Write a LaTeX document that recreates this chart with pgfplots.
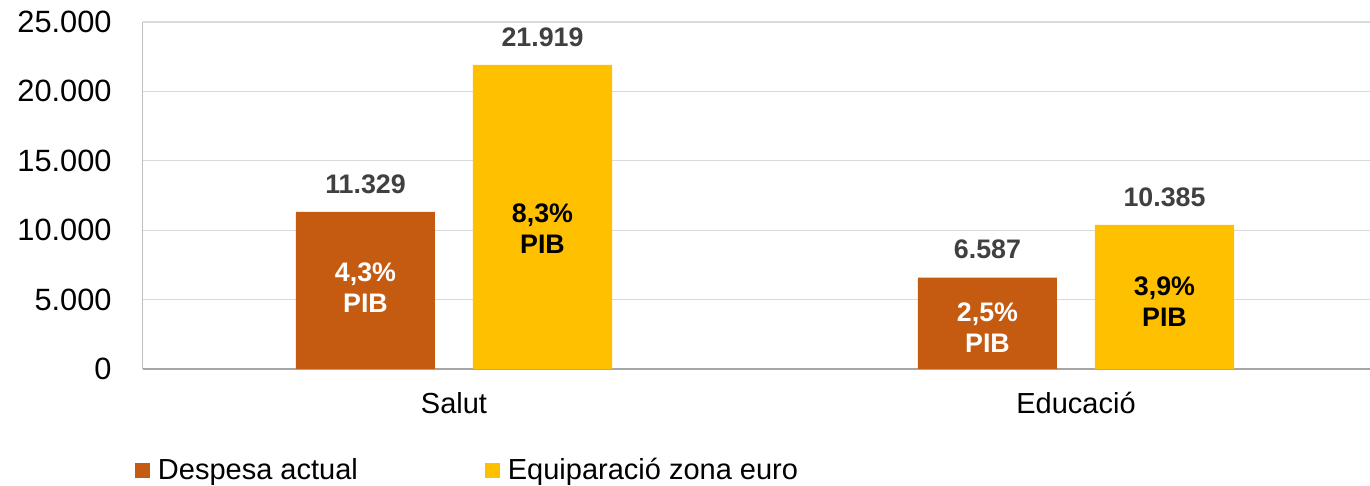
\documentclass[border=0pt]{standalone}
\usepackage{fontspec}
\setmainfont{Liberation Sans}
\usepackage{pgfplots}
\pgfplotsset{compat=1.18}
\definecolor{cOr}{HTML}{C55A11}
\definecolor{cYe}{HTML}{FFC000}
\definecolor{cLab}{HTML}{404040}
\definecolor{cGrid}{HTML}{D9D9D9}
\definecolor{cAxB}{HTML}{A6A6A6}
\definecolor{cAxL}{HTML}{BFBFBF}
\begin{document}
\begin{tikzpicture}
\useasboundingbox (-71.5pt,-58.5pt) rectangle (613.5pt,184.5pt);
\begin{axis}[
  at={(0,0)}, anchor=south west,
  scale only axis, width=613.5pt, height=173.5pt,
  xmin=-0.5, xmax=1.4727, ymin=0, ymax=25000,
  ybar=19pt, bar width=69.5pt,
  axis x line*=bottom, axis y line*=left,
  axis line style={-},
  x axis line style={cAxB, line width=0.8pt},
  y axis line style={cAxL, line width=0.5pt},
  ymajorgrids, major grid style={cGrid, line width=0.6pt},
  major tick length=0pt,
  ytick={0,5000,10000,15000,20000,25000},
  scaled y ticks=false,
  /pgf/number format/1000 sep={.},
  /pgf/number format/assume math mode=true,
  yticklabel style={font=\fontsize{15.4}{18}\selectfont, anchor=east, inner sep=0pt, xshift=-15.5pt},
  xtick={0,1}, xticklabels={Salut, Educació},
  xticklabel style={font=\fontsize{14.5}{17}\selectfont, anchor=base, inner sep=0pt, yshift=-22.5pt},
  point meta=explicit symbolic,
  nodes near coords={\pgfplotspointmeta},
  nodes near coords style={font=\fontsize{13.4}{15}\selectfont\bfseries, text=cLab, anchor=south, inner sep=0pt, yshift=9pt},
  legend columns=2,
  legend image code/.code={\fill[#1, draw=none] (0pt,-3.75pt) rectangle (7.5pt,3.75pt);},
  legend style={draw=none, fill=none, inner sep=0pt, outer sep=0pt,
    at={(0,0)}, anchor=west, xshift=-4pt, yshift=-50.5pt,
    font=\fontsize{14.5}{16}\selectfont,
    nodes={inner sep=0pt},
    /tikz/every odd column/.append style={column sep=4pt},
    /tikz/every even column/.append style={column sep=63.5pt}},
]
\addplot[fill=cOr, draw=none] coordinates {(0,11329) [11.329] (1,6587) [6.587]};
\addlegendentry{Despesa actual}
\addplot[fill=cYe, draw=none] coordinates {(0,21919) [21.919] (1,10385) [10.385]};
\addlegendentry{Equiparació zona euro}
\node[align=center, text=white, font=\fontsize{13.4}{15.5}\selectfont\bfseries] at (axis cs:-0.1423,5872) {4,3\%\\PIB};
\node[align=center, text=black, font=\fontsize{13.4}{15.5}\selectfont\bfseries] at (axis cs:0.1423,10122) {8,3\%\\PIB};
\node[align=center, text=white, font=\fontsize{13.4}{15.5}\selectfont\bfseries] at (axis cs:0.8577,2954) {2,5\%\\PIB};
\node[align=center, text=black, font=\fontsize{13.4}{15.5}\selectfont\bfseries] at (axis cs:1.1423,4827) {3,9\%\\PIB};
\end{axis}
\end{tikzpicture}
\end{document}
